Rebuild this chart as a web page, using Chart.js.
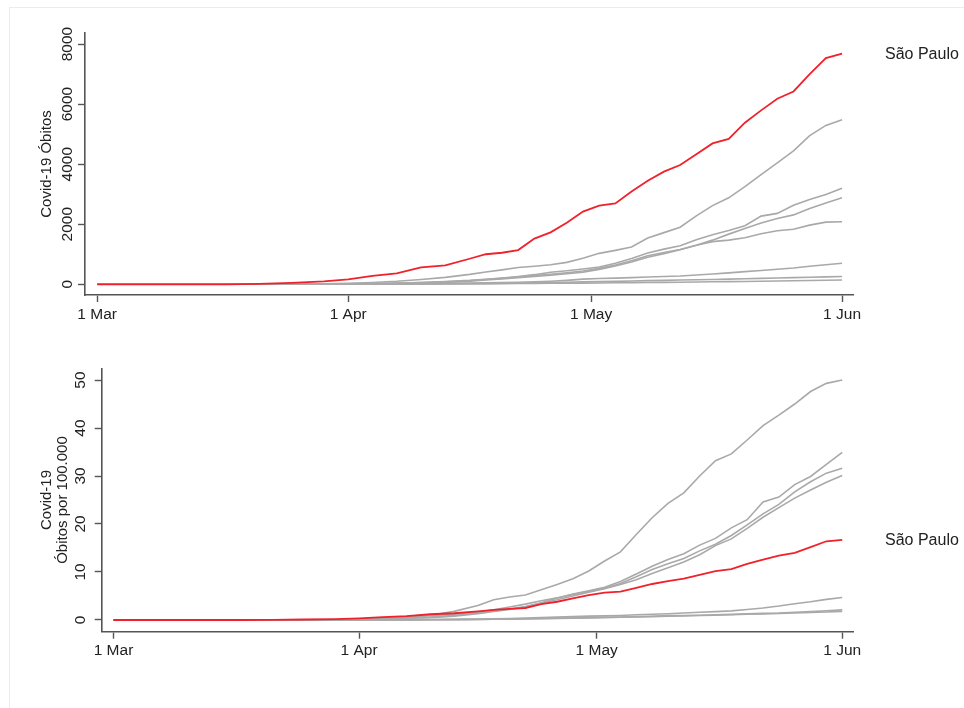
<!DOCTYPE html>
<html>
<head>
<meta charset="utf-8">
<script src="https://cdn.jsdelivr.net/npm/chart.js@4/dist/chart.umd.min.js"></script>
<style>
  html, body { margin: 0; padding: 0; background: #fff; }
  #page { position: relative; width: 964px; height: 708px; overflow: hidden; }
  #frame { position: absolute; left: 9px; top: 7px; width: 970px; height: 720px;
           border-left: 1px solid #ececec; border-top: 1px solid #ececec; }
  canvas { position: absolute; left: 0; }
</style>
</head>
<body>
<div id="page">
  <div id="frame"></div>
  <canvas id="top" width="964" height="354" style="top:0"></canvas>
  <canvas id="bottom" width="964" height="354" style="top:354px"></canvas>
</div>
<script>
// days since 1 Mar 2020
const days = [0,16,20,24,28,31,34,37,40,43,46,48,50,52,54,56,58,60,62,64,66,68,70,72,74,76,78,80,82,84,86,88,90,92];

const tickDays = [0, 31, 61, 92];
const tickLabels = ["1 Mar", "1 Apr", "1 May", "1 Jun"];
const topYTicks = [0, 2000, 4000, 6000, 8000];
const bottomYTicks = [0, 10, 20, 30, 40, 50];
const highlightName = "São Paulo";

// deaths (top chart)
const spTop = [0,0,15,50,100,160,280,360,560,630,850,1000,1050,1140,1520,1730,2050,2420,2620,2690,3090,3450,3750,3970,4330,4690,4840,5380,5790,6180,6420,7000,7530,7680];
const g1Top = [0,0,0,5,15,30,60,100,160,230,330,410,480,560,600,650,730,870,1030,1130,1240,1540,1720,1900,2280,2620,2880,3250,3650,4040,4440,4950,5290,5480];
const g2Top = [0,0,0,2,8,15,25,40,60,90,130,170,210,260,320,400,450,510,575,700,860,1040,1170,1280,1480,1650,1790,1950,2270,2360,2630,2820,2990,3200];
const g3Top = [0,0,0,2,6,12,22,35,55,80,120,160,200,240,290,330,380,440,530,640,780,950,1060,1160,1300,1470,1670,1860,2040,2190,2310,2520,2710,2880];
const g4Top = [0,0,0,1,4,8,15,25,40,65,100,140,180,220,260,300,350,400,495,610,740,900,1020,1150,1300,1420,1470,1550,1680,1780,1830,1970,2070,2080];
const g5Top = [0,0,0,0,2,5,8,12,20,30,40,50,60,70,80,100,130,170,190,205,222,240,258,278,310,340,380,420,460,500,540,600,650,700];
const g6Top = [0,0,0,0,1,2,4,7,10,17,25,32,40,47,53,60,70,80,88,96,110,120,130,140,150,160,172,185,197,208,220,233,246,260];
const g7Top = [0,0,0,0,0,1,2,3,5,8,12,15,20,24,28,32,36,40,45,50,55,60,65,70,76,82,88,95,102,110,118,126,133,140];

// deaths per 100.000 (bottom chart)
const spBot = [0,0,0.03,0.1,0.2,0.35,0.6,0.8,1.2,1.4,1.8,2.1,2.3,2.5,3.3,3.8,4.5,5.2,5.7,5.9,6.7,7.5,8.1,8.6,9.4,10.2,10.6,11.7,12.6,13.4,14.0,15.2,16.4,16.7];
const b1Bot = [0,0,0,0,0.05,0.2,0.4,0.7,1.0,1.8,3.0,4.2,4.8,5.2,6.3,7.4,8.6,10.2,12.3,14.2,17.8,21.3,24.3,26.5,30.0,33.2,34.6,37.5,40.5,42.7,45.0,47.6,49.3,50.0];
const b2Bot = [0,0,0,0,0.03,0.1,0.25,0.4,0.6,1.0,1.4,1.9,2.3,2.8,3.6,4.6,5.4,6.1,6.8,8.0,9.6,11.2,12.6,13.8,15.6,17.0,19.2,20.9,24.6,25.6,28.2,29.9,32.4,34.9];
const b3Bot = [0,0,0,0.02,0.06,0.15,0.35,0.6,0.9,1.2,1.6,2.1,2.7,3.3,4.0,4.6,5.3,6.0,6.6,7.6,9.0,10.5,11.7,12.8,14.4,15.8,17.6,19.8,22.1,24.1,26.7,28.8,30.6,31.6];
const b4Bot = [0,0,0,0.01,0.04,0.1,0.2,0.35,0.5,0.8,1.3,1.8,2.2,2.7,3.5,4.2,5.0,5.8,6.5,7.4,8.4,9.7,10.9,12.1,13.6,15.5,16.9,19.1,21.4,23.4,25.4,27.1,28.7,30.1];
const b5Bot = [0,0,0,0,0,0.02,0.05,0.08,0.1,0.15,0.2,0.25,0.3,0.4,0.5,0.6,0.7,0.8,0.85,0.95,1.1,1.2,1.3,1.45,1.6,1.75,1.9,2.2,2.5,2.9,3.4,3.8,4.3,4.7];
const b6Bot = [0,0,0,0,0,0.01,0.02,0.03,0.05,0.08,0.12,0.16,0.2,0.25,0.3,0.36,0.42,0.5,0.56,0.62,0.7,0.78,0.9,0.95,1.0,1.08,1.18,1.3,1.38,1.45,1.6,1.75,1.92,2.1];
const b7Bot = [0,0,0,0,0,0.01,0.02,0.03,0.05,0.08,0.1,0.14,0.18,0.22,0.27,0.32,0.38,0.45,0.5,0.56,0.63,0.7,0.8,0.86,0.92,1.0,1.1,1.2,1.27,1.35,1.45,1.55,1.68,1.8];

const RED = "#f0212b";
const GREY = "#a9a9a9";
const AXIS = "#555555";
const FONT = "'Liberation Sans', Arial, Helvetica, sans-serif";

function toPoints(vals) {
  return vals.map((v, i) => ({ x: days[i], y: v }));
}

function makeDatasets(sp, greys) {
  const sets = [{ data: toPoints(sp), borderColor: RED, borderWidth: 1.8, order: 0 }];
  greys.forEach((g) => {
    sets.push({ data: toPoints(g), borderColor: GREY, borderWidth: 1.6, order: 1 });
  });
  return sets;
}

//label at the right of the red line
const endLabel = {
  id: "endLabel",
  afterDatasetsDraw(chart) {
    const ctx = chart.ctx;
    const sp = chart.data.datasets[0].data;
    const y = chart.scales.y.getPixelForValue(sp[sp.length - 1].y);
    ctx.save();
    ctx.font = "16px " + FONT;
    ctx.fillStyle = "#222";
    ctx.textAlign = "left";
    ctx.textBaseline = "middle";
    ctx.fillText(highlightName, 885, y + 1);
    ctx.restore();
  }
};

function makeChart(el, cfg) {
  return new Chart(document.getElementById(el), {
    type: "line",
    plugins: [endLabel],
    data: { datasets: makeDatasets(cfg.sp, cfg.greys) },
    options: {
      responsive: false,
      animation: false,
      devicePixelRatio: 1,
      layout: { padding: { left: 0, top: cfg.padTop, right: 111, bottom: 0 } },
      elements: { point: { radius: 0 }, line: { tension: 0 } },
      plugins: { legend: { display: false }, tooltip: { enabled: false } },
      scales: {
        x: {
          type: "linear",
          min: cfg.xMin,
          max: cfg.xMax,
          afterBuildTicks: (s) => { s.ticks = tickDays.map((v) => ({ value: v })); },
          afterFit: (s) => { s.height = cfg.xHeight; },
          border: { color: AXIS, width: 1.6 },
          grid: { drawOnChartArea: false, tickLength: 7, color: AXIS, tickWidth: 1.4 },
          ticks: {
            padding: 3,
            color: "#222",
            font: { family: FONT, size: 15.5 },
            maxRotation: 0,
            callback: (v) => tickLabels[tickDays.indexOf(v)]
          }
        },
        y: {
          min: cfg.yMin,
          max: cfg.yMax,
          afterBuildTicks: (s) => { s.ticks = cfg.yTicks.map((v) => ({ value: v })); },
          afterFit: (s) => { s.width = cfg.yWidth; },
          border: { color: AXIS, width: 1.6 },
          grid: { drawOnChartArea: false, tickLength: 7, color: AXIS, tickWidth: 1.4 },
          title: {
            display: true,
            text: cfg.title,
            color: "#222",
            font: { family: FONT, size: 15, lineHeight: cfg.titleLH },
            padding: { top: cfg.titlePad, bottom: 0 }
          },
          ticks: {
            minRotation: 90,
            maxRotation: 90,
            crossAlign: "center",
            padding: cfg.yTickPad,
            color: "#222",
            font: { family: FONT, size: 15.5 },
            callback: (v) => String(v)
          }
        }
      }
    }
  });
}

makeChart("top", {
  sp: spTop,
  greys: [g1Top, g2Top, g3Top, g4Top, g5Top, g6Top, g7Top],
  padTop: 33,
  xMin: -1.5, xMax: 93.35,
  yMin: -357, yMax: 8367,
  yTicks: topYTicks,
  xHeight: 59,
  yWidth: 85,
  yTickPad: -7,
  title: "Covid-19 Óbitos",
  titleLH: 1.2,
  titlePad: 38
});

makeChart("bottom", {
  sp: spBot,
  greys: [b1Bot, b2Bot, b3Bot, b4Bot, b5Bot, b6Bot, b7Bot],
  padTop: 14.3,
  xMin: -1.49, xMax: 93.36,
  yMin: -2.44, yMax: 52.44,
  yTicks: bottomYTicks,
  xHeight: 76.3,
  yWidth: 101.7,
  yTickPad: 5,
  title: ["Covid-19", "Óbitos por 100.000"],
  titleLH: 1.04,
  titlePad: 39
});
</script>
</body>
</html>
